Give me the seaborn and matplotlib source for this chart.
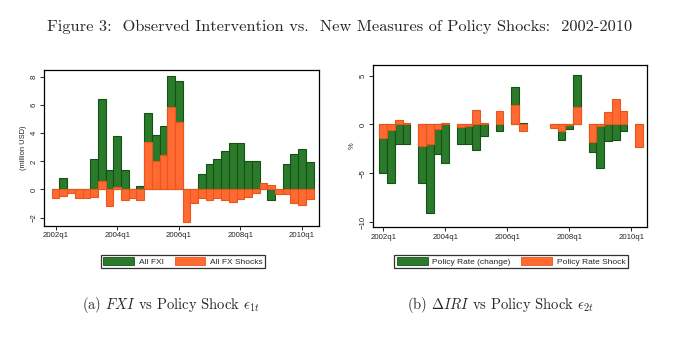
import numpy as np
import pandas as pd
import matplotlib
matplotlib.use("Agg")
import matplotlib.pyplot as plt
from matplotlib.patches import Patch
import seaborn as sns

sns.set_theme(style="white")
plt.rcParams["font.family"] = ["Liberation Sans", "DejaVu Sans"]
plt.rcParams["mathtext.fontset"] = "cm"

# Quarterly sample 2002q1 - 2010q2
quarters = [f"{y}q{q}" for y in range(2002, 2011) for q in range(1, 5)][:34]
tick_labels = ["2002q1", "2004q1", "2006q1", "2008q1", "2010q1"]

# Panel (a): FX intervention and FX policy shocks (million USD)
all_fxi = [0.0, 0.8, 0.0, 0.0, 0.0, 2.14, 6.45, 1.36, 3.78, 1.36, 0.0, 0.23,
           5.47, 3.9, 4.53, 8.07, 7.72, 0.0, 0.0, 1.08, 1.78, 2.14, 2.77,
           3.28, 3.28, 2.0, 2.0, 0.0, -0.77, 0.0, 1.78, 2.49, 2.85, 1.93]
all_fx_shocks = [-0.6, -0.47, -0.27, -0.6, -0.6, -0.55, 0.61, -1.2, 0.18,
                 -0.76, -0.6, -0.76, 3.38, 2.02, 2.44, 5.84, 4.78, -2.33,
                 -0.99, -0.62, -0.76, -0.62, -0.76, -0.9, -0.7, -0.54,
                 -0.27, 0.45, 0.3, -0.34, -0.34, -0.93, -1.12, -0.7]

# Panel (b): policy rate change and policy rate shocks (%)
nan = np.nan
rate_change = [-5.0, -6.05, -2.05, -2.05, nan, -6.05, -9.05, -3.05, -4.0, nan,
               -2.05, -2.05, -2.57, -1.2, nan, -0.72, nan, 3.8, 0.2, nan, nan,
               nan, 0.0, -1.55, -0.48, 5.03, nan, -2.8, -4.5, -1.7, -1.55,
               -0.7, nan, 0.0]
rate_shock = [-1.35, -0.55, 0.45, 0.14, nan, -2.25, -1.97, -0.48, 0.12, nan,
              -0.22, -0.12, 1.46, 0.2, nan, 1.36, nan, 1.99, -0.65, nan, nan,
              nan, -0.38, -0.65, -0.1, 1.8, nan, -1.78, -0.13, 1.24, 2.66,
              1.36, nan, -2.36]

GREEN, GREEN_EDGE = "#2b7a2b", "#145214"
ORANGE, ORANGE_EDGE = "#ff6a33", "#e8561c"

fig = plt.figure(figsize=(6.84, 3.45), dpi=100)
ax1 = fig.add_axes([44 / 684, 1 - 226 / 345, 275 / 684, 156 / 345])
ax2 = fig.add_axes([373.3 / 684, 1 - 227.3 / 345, 273.4 / 684, 162.3 / 345])


def draw_panel(ax, green, orange, ylim, yticks, ylabel, xlim):
    df = pd.DataFrame({"quarter": quarters, "green": green, "orange": orange})
    sns.barplot(data=df, x="quarter", y="green", order=quarters, color=GREEN,
                saturation=1, width=1.0, edgecolor=GREEN_EDGE, linewidth=0.8,
                errorbar=None, ax=ax)
    sns.barplot(data=df, x="quarter", y="orange", order=quarters, color=ORANGE,
                saturation=1, width=1.0, edgecolor=ORANGE_EDGE, linewidth=0.8,
                errorbar=None, ax=ax)
    ax.set_xlim(*xlim)
    ax.set_ylim(*ylim)
    ax.set_xticks([quarters.index(t) for t in tick_labels])
    ax.set_xticklabels(tick_labels, fontsize=5.6)
    ax.set_yticks(yticks)
    ax.set_yticklabels([str(v).replace("-", "\u2212") for v in yticks],
                       fontsize=5.6, rotation=90, va="center")
    ax.set_xlabel("")
    ax.set_ylabel(ylabel, fontsize=5.4, labelpad=3)
    ax.tick_params(axis="both", direction="out", length=3, width=0.6,
                   color="black", pad=1.5, bottom=True, left=True)
    for s in ax.spines.values():
        s.set_visible(True)
        s.set_color("black")
        s.set_linewidth(0.9)


draw_panel(ax1, all_fxi, all_fx_shocks, (-2.6, 8.5), [-2, 0, 2, 4, 6, 8],
           "(million USD)", (-1.5, 34.2))
draw_panel(ax2, rate_change, rate_shock, (-10.55, 6.1), [-10, -5, 0, 5],
           "%", (-1.3, 34.0))

leg_kw = dict(ncol=2, fontsize=6, frameon=True, fancybox=False,
              edgecolor="black", handlelength=3.7, handleheight=0.95,
              columnspacing=1.3, handletextpad=0.55, borderpad=0.3,
              borderaxespad=0, loc="center")
l1 = fig.legend(handles=[Patch(facecolor=GREEN, edgecolor=GREEN_EDGE, lw=0.6),
                         Patch(facecolor=ORANGE, edgecolor=ORANGE_EDGE, lw=0.6)],
                labels=["All FXI", "All FX Shocks"],
                bbox_to_anchor=(183 / 684, 1 - 261.7 / 345), **leg_kw)
l1.get_frame().set_linewidth(0.9)
l2 = fig.legend(handles=[Patch(facecolor=GREEN, edgecolor=GREEN_EDGE, lw=0.6),
                         Patch(facecolor=ORANGE, edgecolor=ORANGE_EDGE, lw=0.6)],
                labels=["Policy Rate (change)", "Policy Rate Shock"],
                bbox_to_anchor=(511 / 684, 1 - 261.7 / 345), **leg_kw)
l2.get_frame().set_linewidth(0.9)

serif = dict(family=["cmr10", "DejaVu Serif"])
fig.text(340 / 684, 1 - 27 / 345,
         "Figure 3:  Observed Intervention vs.  New Measures of Policy Shocks:  2002-2010",
         ha="center", va="center", fontsize=11.8, **serif)
fig.text(171 / 684, 1 - 305 / 345,
         r"(a) $FXI$ vs Policy Shock $\epsilon_{1t}$",
         ha="center", va="center", fontsize=10.5, **serif)
fig.text(500 / 684, 1 - 305 / 345,
         r"(b) $\Delta IRI$ vs Policy Shock $\epsilon_{2t}$",
         ha="center", va="center", fontsize=10.5, **serif)

fig.savefig("out.png", dpi=100)
